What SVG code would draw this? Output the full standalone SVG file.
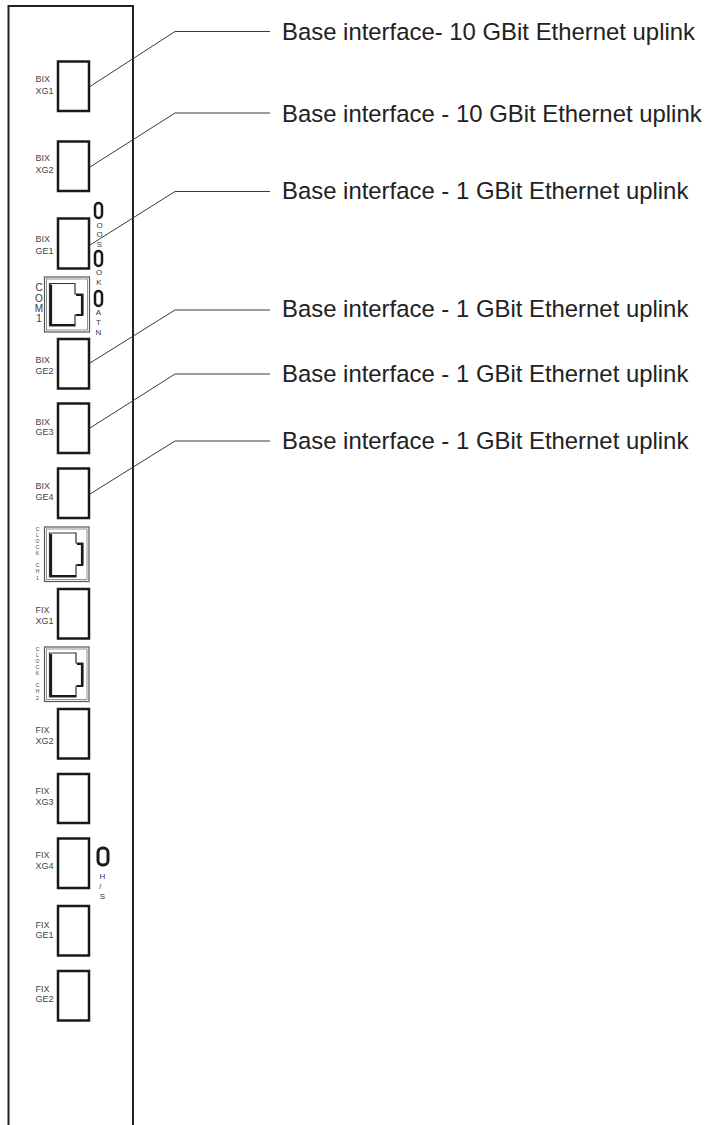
<svg xmlns="http://www.w3.org/2000/svg" width="706" height="1125" viewBox="0 0 706 1125">
<style>
text{font-family:"Liberation Sans",Arial,sans-serif;fill:#222}
.lbl{font-size:23.9px}
.s{font-size:9px;fill:#444}
.v{font-size:8px;fill:#333;text-anchor:middle}
.m{font-size:10px;fill:#3a3a3a;text-anchor:middle}
.t{font-size:5px;fill:#444;text-anchor:middle}
.p{fill:#fff;stroke:#1a1a1a;stroke-width:2.5}
.led{fill:#fff;stroke:#1a1a1a;stroke-width:2.500}
.o{fill:#fff;stroke:#555;stroke-width:1.2}
.i{fill:none;stroke:#777;stroke-width:0.8}
.j{fill:#fff;stroke:#333;stroke-width:1.2}
.k{fill:none;stroke:#1a1a1a;stroke-width:2.2}
.c{fill:none;stroke:#3a3a3a;stroke-width:1}
</style>
<rect width="706" height="1125" fill="#fff"/>
<g id="chassis"><path d="M8.500 1125V6H133V1125" fill="none" stroke="#222" stroke-width="2"/></g>
<g id="connectors">
<path class="c" d="M90 86.500L175 31.500H270"/>
<path class="c" d="M90 167L175 113H270"/>
<path class="c" d="M90 245L175 191.500H270"/>
<path class="c" d="M90 363L175 310H270"/>
<path class="c" d="M90 428L175 374H270"/>
<path class="c" d="M90 494L175 441H270"/>
</g>
<g id="bix-xg1"><rect class="p" x="58" y="61.500" width="31" height="49.500"/><text class="s" x="35.500" y="82">BIX</text><text class="s" x="35.500" y="94">XG1</text></g>
<g id="bix-xg2"><rect class="p" x="58" y="141.500" width="31" height="49.500"/><text class="s" x="35.500" y="161">BIX</text><text class="s" x="35.500" y="173">XG2</text></g>
<g id="bix-ge1"><rect class="p" x="58" y="218.500" width="31" height="50"/><text class="s" x="35.500" y="242">BIX</text><text class="s" x="35.500" y="253.500">GE1</text></g>
<g id="oos"><rect class="led" x="95" y="203" width="7" height="15" rx="3.500"/><text class="v" x="99.500" y="228">O</text><text class="v" x="99.500" y="237">O</text><text class="v" x="99.500" y="247">S</text></g>
<g id="ok"><rect class="led" x="95" y="251" width="7" height="15" rx="3.500"/><text class="v" x="99" y="275">O</text><text class="v" x="99" y="285">K</text></g>
<g id="atn"><rect class="led" x="95" y="291" width="7" height="15" rx="3.500"/><text class="v" x="98.500" y="315">A</text><text class="v" x="98.500" y="325">T</text><text class="v" x="98.500" y="334.500">N</text></g>
<g id="com1"><rect class="o" x="44.500" y="277" width="45" height="55"/><rect class="i" x="46.500" y="279" width="41" height="51"/><path class="j" d="M49.500 283.500H75V294H83V315H75V326H49.500Z"/><path class="k" d="M51 284.500V325H75M76 295H82V315H76"/><text class="m" x="39" y="291">C</text><text class="m" x="39" y="302">O</text><text class="m" x="39" y="312">M</text><text class="m" x="39" y="322">1</text></g>
<g id="bix-ge2"><rect class="p" x="58" y="339" width="31" height="49.500"/><text class="s" x="35.500" y="363">BIX</text><text class="s" x="35.500" y="373.500">GE2</text></g>
<g id="bix-ge3"><rect class="p" x="58" y="403.500" width="31" height="49.500"/><text class="s" x="35.500" y="425">BIX</text><text class="s" x="35.500" y="435">GE3</text></g>
<g id="bix-ge4"><rect class="p" x="58" y="468.500" width="31" height="49.500"/><text class="s" x="35.500" y="489">BIX</text><text class="s" x="35.500" y="499.500">GE4</text></g>
<g id="clock1"><rect class="o" x="44.500" y="527" width="44.500" height="54.500"/><rect class="i" x="46.500" y="529" width="40.500" height="50.500"/><path class="j" d="M49.500 533H76V543H83V565H76V577H49.500Z"/><path class="k" d="M51 534V576H76M77 544H82V565H77"/><text class="t" x="37.500" y="531">C</text><text class="t" x="37.500" y="537">L</text><text class="t" x="37.500" y="543">O</text><text class="t" x="37.500" y="549">C</text><text class="t" x="37.500" y="555">K</text><text class="t" x="37.500" y="567">C</text><text class="t" x="37.500" y="573">H</text><text class="t" x="37.500" y="580">1</text></g>
<g id="fix-xg1"><rect class="p" x="58" y="589" width="31" height="49.500"/><text class="s" x="35.500" y="613">FIX</text><text class="s" x="35.500" y="623.500">XG1</text></g>
<g id="clock2"><rect class="o" x="44.500" y="647" width="44.500" height="54.500"/><rect class="i" x="46.500" y="649" width="40.500" height="50.500"/><path class="j" d="M49.500 653H76V663H83V686H76V697H49.500Z"/><path class="k" d="M51 654V696H76M77 664H82V686H77"/><text class="t" x="37.500" y="651">C</text><text class="t" x="37.500" y="657">L</text><text class="t" x="37.500" y="663">O</text><text class="t" x="37.500" y="669">C</text><text class="t" x="37.500" y="675">K</text><text class="t" x="37.500" y="687">C</text><text class="t" x="37.500" y="693">H</text><text class="t" x="37.500" y="700">2</text></g>
<g id="fix-xg2"><rect class="p" x="58" y="709" width="31" height="49.500"/><text class="s" x="35.500" y="733">FIX</text><text class="s" x="35.500" y="744">XG2</text></g>
<g id="fix-xg3"><rect class="p" x="58" y="774" width="31" height="49"/><text class="s" x="35.500" y="794">FIX</text><text class="s" x="35.500" y="805">XG3</text></g>
<g id="fix-xg4"><rect class="p" x="58" y="838.500" width="31" height="49.500"/><text class="s" x="35.500" y="858">FIX</text><text class="s" x="35.500" y="868.500">XG4</text></g>
<g id="hs"><rect x="98" y="848" width="10" height="17" rx="4.500" fill="#fff" stroke="#1a1a1a" stroke-width="3"/><text class="v" x="102.500" y="879">H</text><text class="v" x="100" y="889">/</text><text class="v" x="102.500" y="899">S</text></g>
<g id="fix-ge1"><rect class="p" x="58" y="906" width="31" height="49.500"/><text class="s" x="35.500" y="928">FIX</text><text class="s" x="35.500" y="938">GE1</text></g>
<g id="fix-ge2"><rect class="p" x="58" y="971" width="31" height="49.500"/><text class="s" x="35.500" y="992">FIX</text><text class="s" x="35.500" y="1002">GE2</text></g>
<g id="labels">
<text class="lbl" x="282" y="40">Base interface- 10 GBit Ethernet uplink</text>
<text class="lbl" x="282" y="121.500">Base interface - 10 GBit Ethernet uplink</text>
<text class="lbl" x="282" y="199">Base interface - 1 GBit Ethernet uplink</text>
<text class="lbl" x="282" y="317">Base interface - 1 GBit Ethernet uplink</text>
<text class="lbl" x="282" y="381.500">Base interface - 1 GBit Ethernet uplink</text>
<text class="lbl" x="282" y="448.500">Base interface - 1 GBit Ethernet uplink</text>
</g>
</svg>
